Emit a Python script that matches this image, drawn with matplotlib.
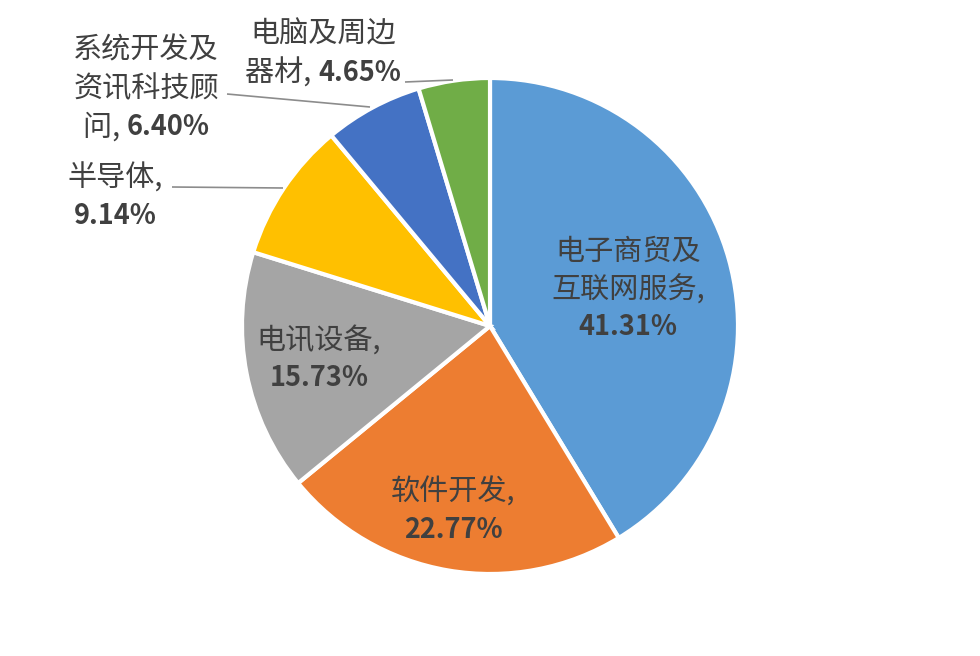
import matplotlib
matplotlib.use("Agg")
import matplotlib.pyplot as plt
from matplotlib.offsetbox import TextArea, HPacker, VPacker, AnnotationBbox

plt.rcParams['font.family'] = ['Noto Sans CJK SC', 'DejaVu Sans']

# data (clockwise from 12 o'clock)
categories = ["电子商贸及\n互联网服务", "软件开发", "电讯设备", "半导体",
              "系统开发及\n资讯科技顾\n问", "电脑及周边\n器材"]
shares = [41.31, 22.77, 15.73, 9.14, 6.40, 4.65]
colors = ["#5B9BD5", "#ED7D31", "#A5A5A5", "#FFC000", "#4472C4", "#70AD47"]

# layout (pixel coords, origin top-left)
W, H = 980, 656
pie_center = (490, 326)
pie_radius = 248
pct_on_new_line = [True, True, True, True, False, False]
label_pos = [(628, 289), (453, 511), (319, 359), (115, 197), (146, 89), (323, 54)]
leaders = {3: [(172, 187), (283, 188)],
           4: [(227, 94), (370, 107)],
           5: [(405, 82), (453, 80)]}

TEXT = "#404040"
FS = 21
FS_PCT = 19.5


def py(y):
    return H - y


fig = plt.figure(figsize=(W / 100, H / 100), dpi=100)
ax = fig.add_axes([0, 0, 1, 1])

ax.pie(shares, colors=colors, startangle=90, counterclock=False,
       center=(pie_center[0], py(pie_center[1])), radius=pie_radius,
       wedgeprops=dict(edgecolor="white", linewidth=3))


def seg(s, bold):
    return TextArea(s, textprops=dict(fontsize=FS_PCT if bold else FS, color=TEXT,
                                      fontweight="bold" if bold else "normal"))


for i, (name, v) in enumerate(zip(categories, shares)):
    name_lines = name.split("\n")
    pct = f"{v:.2f}%"
    rows = []
    for j, ln in enumerate(name_lines):
        last = j == len(name_lines) - 1
        if last and not pct_on_new_line[i]:
            rows.append(HPacker(children=[seg(ln + ", ", False), seg(pct, True)],
                                align="baseline", pad=0, sep=0))
        else:
            txt = ln + "," if last else ln
            rows.append(HPacker(children=[seg(txt, False)], align="baseline", pad=0, sep=0))
    if pct_on_new_line[i]:
        rows.append(HPacker(children=[seg(pct, True)], align="baseline", pad=0, sep=0))
    box = VPacker(children=rows, align="center", pad=0, sep=6)
    x, y = label_pos[i]
    ab = AnnotationBbox(box, (x, py(y)), xycoords="data", frameon=False,
                        box_alignment=(0.5, 0.5), pad=0)
    ax.add_artist(ab)

for i, pts in leaders.items():
    ax.plot([p[0] for p in pts], [py(p[1]) for p in pts],
            color="#8C8C8C", linewidth=1.2, solid_capstyle="butt")

ax.set_xlim(0, W)
ax.set_ylim(0, H)
ax.set_aspect("equal")
ax.axis("off")

fig.savefig("out.png", dpi=100, facecolor="white")
